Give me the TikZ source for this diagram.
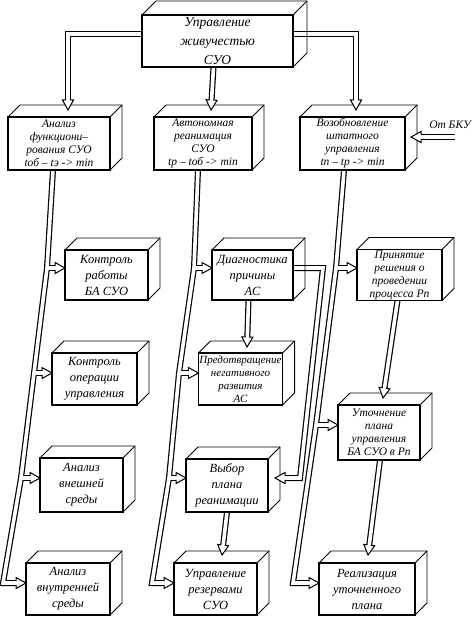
\documentclass[tikz,border=0pt]{standalone}
\usepackage{fontspec}
\setmainfont{Liberation Serif}
\usetikzlibrary{calc,backgrounds,decorations.markings}
\tikzset{
  cub/.style={draw, line width=1.4pt, fill=white, outer sep=0pt, inner sep=1pt, align=center,
    append after command={\pgfextra{\let\cubnode\tikzlastnode
      \draw[line width=0.9pt, line join=miter] (\cubnode.north west) -- ++(#1pt,#1pt)
        -- ($(\cubnode.north east)+(#1pt,#1pt)$) -- ($(\cubnode.south east)+(#1pt,#1pt)$)
        -- (\cubnode.south east);
      \draw[line width=0.9pt] (\cubnode.north east) -- ++(#1pt,#1pt);}}},
  cub/.default=12,
  fthree/.style={font=\itshape\fontsize{12.5}{16}\selectfont},
  ffour/.style={font=\itshape\fontsize{11.5}{13}\selectfont},
  ftop/.style={font=\itshape\fontsize{13.5}{19}\selectfont},
  pone/.style={draw=black, line width=6pt, shorten >=7pt, line join=miter},
  ptwo/.style={draw=white, line width=3.6pt, shorten >=7pt, line join=miter},
  pthree/.style={postaction={decorate, decoration={markings, mark=at position 1 with {
      \fill[white] (-10pt,-5.5pt) -- (0pt,0pt) -- (-10pt,5.5pt) -- cycle;
      \draw[line width=1pt, line join=miter] (-10pt,-1.8pt) -- (-10pt,-5.5pt) -- (0pt,0pt) -- (-10pt,5.5pt) -- (-10pt,1.8pt);}}}}
}
\newcommand\allconn[1]{%
  \path[#1] ($(top.west)+(0,-7)$) -- (ca) -- ($(b1.north)+(9,-7)$);
  \path[#1] ($(top.south)+(-4,0)$) -- ($(b2.north)+(8,-7)$);
  \path[#1] ($(top.east)+(0,-7)$) -- (cb) -- ($(b3.north)+(3.5,-7)$);
  \path[#1] (bku) -- ($(b3.east)+(6,-6.5)$);
  \path[#1] ($(b1.south)+(-6,0)$) -- (la) -- (lb) -- (lc) -- (ld) -- (ld -| L4.west);
  \path[#1] (la) -- (la -| L1.west);
  \path[#1] (lb) -- (lb -| L2.west);
  \path[#1] (lc) -- (lc -| L3.west);
  \path[#1] ($(b2.south)+(-5,0)$) -- (ma) -- (mb) -- (mc) -- (md) -- (md -| M4.west);
  \path[#1] (ma) -- (ma -| M1.west);
  \path[#1] (mb) -- (mb -| M2.west);
  \path[#1] (mc) -- (mc -| M3.west);
  \path[#1] ($(b3.south)+(-8.5,0)$) -- (ra) -- (rb) -- (rd) -- (rd -| R3.west);
  \path[#1] (ra) -- (ra -| R1.west);
  \path[#1] (rb) -- (rb -| R2.west);
  \path[#1] ($(M1.east)+(0,-7)$) -- (da) -- (db) -- ($(M3.east)+(7,-7.5)$);
  \path[#1] ($(M1.south)+(-4,0)$) -- ($(M2.north)+(6.5,-6)$);
  \path[#1] (M3.south) -- ($(M4.north)+(6.5,-8)$);
  \path[#1] ($(R1.south)+(-2,0)$) -- ($(R2.north)+(4,-7)$);
  \path[#1] ($(R2.south)+(1,0)$) -- ($(R3.north)+(1,-8)$);
}
\begin{document}
\begin{tikzpicture}[x=1pt, y=-1pt]
\useasboundingbox (0,0) rectangle (473,617);
% boxes
\node[cub=14, ftop, minimum width=151pt, minimum height=52pt] (top) at (217.5,41) {Управление\\живучестью\\СУО};
\node[cub, ffour, minimum width=102pt, minimum height=53pt] (b1) at (59,143.5) {Анализ\\функциони–\\рования СУО\\tоб – tэ -> min};
\node[cub, ffour, minimum width=98pt, minimum height=53pt] (b2) at (203,143.5) {Автономная\\реанимация\\СУО\\tр – tоб -> min};
\node[cub, ffour, minimum width=105pt, minimum height=53pt] (b3) at (352.5,143.5) {Возобновление\\штатного\\управления\\tп – tр -> min};
\node[cub, fthree, minimum width=83pt, minimum height=50pt] (L1) at (106.5,275) {Контроль\\работы\\БА СУО};
\node[cub, fthree, minimum width=85pt, minimum height=52pt] (L2) at (94.5,379) {Контроль\\операции\\управления};
\node[cub, fthree, minimum width=83pt, minimum height=54pt] (L3) at (81.5,485) {Анализ\\внешней\\среды};
\node[cub, fthree, minimum width=84pt, minimum height=52pt] (L4) at (68,589) {Анализ\\внутренней\\среды};
\node[cub, fthree, minimum width=81pt, minimum height=50pt] (M1) at (252.5,275) {Диагностика\\причины\\АС};
\node[cub, ffour, font=\itshape\fontsize{11}{13}\selectfont, minimum width=83pt, minimum height=52pt] (M2) at (240.5,379) {Предотвращение\\негативного\\развития\\АС};
\node[cub, fthree, minimum width=82pt, minimum height=53pt] (M3) at (227,485.5) {Выбор\\плана\\реанимации};
\node[cub, fthree, minimum width=83pt, minimum height=52pt] (M4) at (215.5,589) {Управление\\резервами\\СУО};
\node[cub, ffour, minimum width=85pt, minimum height=50pt] (R1) at (399.5,275) {Принятие\\решения о\\проведении\\процесса Рп};
\node[cub, ffour, minimum width=82pt, minimum height=55pt] (R2) at (379,432.5) {Уточнение\\плана\\управления\\БА СУО в Рп};
\node[cub, fthree, minimum width=96pt, minimum height=52pt] (R3) at (367,589) {Реализация\\уточненного\\плана};
\node[ffour, inner sep=0pt] (bkul) at (450,125) {От БКУ};
% connector bend points
\coordinate (ca) at (68,34);
\coordinate (cb) at (356,34);
\coordinate (bku) at (455,137);
\coordinate (la) at (47,268);
\coordinate (lb) at (34,373);
\coordinate (lc) at (21,478);
\coordinate (ld) at (3,583);
\coordinate (ma) at (194,268);
\coordinate (mb) at (179,373);
\coordinate (mc) at (169,478);
\coordinate (md) at (152,583);
\coordinate (ra) at (336,268);
\coordinate (rb) at (316,425);
\coordinate (rd) at (293,583);
\coordinate (da) at (323,268);
\coordinate (db) at (300,478);
\begin{scope}[on background layer]
  \allconn{pone}
  \allconn{ptwo}
\end{scope}
\allconn{pthree}
\end{tikzpicture}
\end{document}
